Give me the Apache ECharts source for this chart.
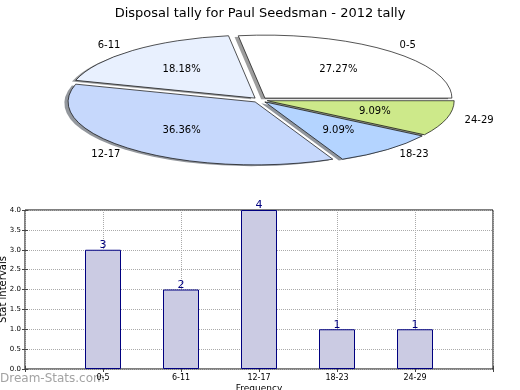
<!DOCTYPE html>
<html>
<head>
<meta charset="utf-8">
<script src="https://cdn.jsdelivr.net/npm/echarts@6/dist/echarts.min.js"></script>
<style>
html,body{margin:0;padding:0;background:#fff;}
#chart{width:520px;height:390px;}
</style>
</head>
<body>
<div id="chart"></div>
<script>
// ---- data ----
const titleText = 'Disposal tally for Paul Seedsman - 2012 tally';
const pieCategories = ['0-5', '6-11', '12-17', '18-23', '24-29'];
const pieValues = [3, 2, 4, 1, 1];
const barCategories = ['0-5', '6-11', '12-17', '18-23', '24-29'];
const barValues = [3, 2, 4, 1, 1];
const xAxisName = 'Frequency';
const yAxisName = 'Stat intervals';
const watermark = 'Dream-Stats.com';

// ---- styles / layout ----
const pieColors = ['#ffffff', '#e8f0fe', '#c6d8fc', '#b4d4ff', '#cde98a'];
const FONT = 'DejaVu Sans';
const PIE_CX = 260, PIE_CY = 100, PIE_R = 187, PIE_K = 63 / 187, EXPLODE = 0.04;

const total = pieValues.reduce((a, b) => a + b, 0);
const cum = [0];
pieValues.forEach(v => cum.push(cum[cum.length - 1] + v));

function hexToRgb(h) {
  const n = parseInt(h.slice(1), 16);
  return [(n >> 16) & 255, (n >> 8) & 255, n & 255];
}

function renderSlice(params, api) {
  const i = params.dataIndex;
  const v = api.value(0);
  const start = cum[i] / total * Math.PI * 2;
  const end = (cum[i] + v) / total * Math.PI * 2;
  const mid = (start + end) / 2;
  const ex = EXPLODE * PIE_R * Math.cos(mid);
  const ey = -EXPLODE * PIE_R * Math.sin(mid);
  const rgb = hexToRgb(pieColors[i]);
  const shadowFill = 'rgba(' + rgb.map(c => Math.round(c * 0.3)).join(',') + ',0.55)';
  const sdx = -0.02 * PIE_R, sdy = 0.02 * PIE_R;
  const outerX = PIE_CX + ex + 1.1 * PIE_R * Math.cos(mid);
  const outerY = PIE_CY + PIE_K * (ey - 1.1 * PIE_R * Math.sin(mid));
  const pctX = PIE_CX + ex + 0.6 * PIE_R * Math.cos(mid);
  const pctY = PIE_CY + PIE_K * (ey - 0.6 * PIE_R * Math.sin(mid));
  return {
    type: 'group',
    children: [
      {
        type: 'group', x: PIE_CX, y: PIE_CY, scaleY: PIE_K,
        children: [
          {
            type: 'sector', z2: 0,
            shape: { cx: ex + sdx, cy: ey + sdy, r: PIE_R, r0: 0, startAngle: -end, endAngle: -start, clockwise: true },
            style: { fill: shadowFill, stroke: null }
          },
          {
            type: 'sector', z2: 5,
            shape: { cx: ex, cy: ey, r: PIE_R, r0: 0, startAngle: -end, endAngle: -start, clockwise: true },
            style: { fill: pieColors[i], stroke: '#000', lineWidth: 1, strokeNoScale: true }
          }
        ]
      },
      {
        type: 'text', z2: 10, x: outerX, y: outerY,
        style: { text: pieCategories[i], fill: '#000', font: '10px "' + FONT + '"',
                 align: Math.cos(mid) >= 0 ? 'left' : 'right', verticalAlign: 'middle' }
      },
      {
        type: 'text', z2: 10, x: pctX, y: pctY,
        style: { text: (v / total * 100).toFixed(2) + '%', fill: '#000', font: '10px "' + FONT + '"',
                 align: 'center', verticalAlign: 'middle' }
      }
    ]
  };
}

const chart = echarts.init(document.getElementById('chart'), null, { renderer: 'canvas' });
const option = {
  animation: false,
  backgroundColor: '#fff',
  textStyle: { fontFamily: FONT },
  title: {
    text: titleText, left: 'center', top: 2,
    textStyle: { fontSize: 13, fontWeight: 'normal', color: '#000', fontFamily: FONT }
  },
  graphic: [{
    type: 'text', left: 0, top: 373,
    style: { text: watermark, fill: '#a3a3a3', font: '12px "' + FONT + '"' }
  }],
  grid: { left: 25, right: 27, top: 210, bottom: 21, containLabel: false, outerBoundsMode: 'none',
          show: true, borderColor: '#000', borderWidth: 1, backgroundColor: 'transparent' },
  xAxis: [{
    type: 'value', min: 0, max: barCategories.length + 1, interval: 1,
    name: xAxisName, nameLocation: 'middle', nameGap: 15, nameMoveOverlap: false,
    nameTextStyle: { fontSize: 9, color: '#000' },
    axisLine: { show: false },
    axisTick: { show: true, inside: true, length: 3, lineStyle: { color: '#444' } },
    axisLabel: { fontSize: 8, color: '#000', margin: 5,
      formatter: v => barCategories[v - 1] || '' },
    splitLine: { show: true, lineStyle: { type: 'dotted', color: '#aaa', width: 1 } }
  }, {
    type: 'value', position: 'top', min: 0, max: barCategories.length + 1, interval: 1,
    axisLine: { show: false }, axisLabel: { show: false }, splitLine: { show: false },
    axisTick: { show: true, inside: true, length: 3, lineStyle: { color: '#444' } }
  }],
  yAxis: [{
    type: 'value', min: 0, max: 4, interval: 0.5,
    name: yAxisName, nameLocation: 'middle', nameGap: 17, nameMoveOverlap: false,
    nameTextStyle: { fontSize: 10, color: '#000' },
    axisLine: { show: false },
    axisTick: { show: true, inside: true, length: 3, lineStyle: { color: '#444' } },
    axisLabel: { fontSize: 7, color: '#000', margin: 4, formatter: v => v.toFixed(1) },
    splitLine: { show: true, lineStyle: { type: 'dotted', color: '#aaa', width: 1 } }
  }, {
    type: 'value', position: 'right', min: 0, max: 4, interval: 0.5,
    axisLine: { show: false }, axisLabel: { show: false }, splitLine: { show: false },
    axisTick: { show: true, inside: true, length: 3, lineStyle: { color: '#444' } }
  }],
  series: [{
    type: 'custom',
    coordinateSystem: 'none',
    renderItem: renderSlice,
    data: pieValues.map(v => [v])
  }, {
    type: 'bar',
    xAxisIndex: 0, yAxisIndex: 0,
    barWidth: 36,
    data: barValues.map((v, i) => [i + 1, v]),
    itemStyle: { color: '#cbcbe3', borderColor: '#000080', borderWidth: 1 },
    label: { show: true, position: 'top', distance: -1, color: '#000080', fontSize: 11,
      formatter: p => String(p.value[1]) }
  }]
};
chart.setOption(option);
</script>
</body>
</html>
